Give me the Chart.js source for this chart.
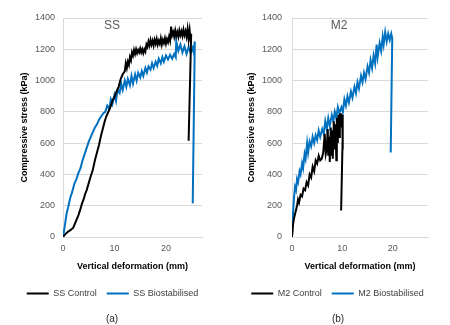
<!DOCTYPE html>
<html>
<head>
<meta charset="utf-8">
<script src="https://cdn.jsdelivr.net/npm/chart.js@4"></script>
<style>
  html, body { margin: 0; padding: 0; background: #fff; }
  #page { position: relative; width: 450px; height: 325px; font-family: "Liberation Sans", Arial, sans-serif; }
  .panel { position: absolute; top: 0; width: 225px; height: 325px; }
  .note { position: absolute; transform: translate(-50%, -50%); white-space: nowrap; }
  .tag { font-size: 12px; color: #595959; }
  .sub { font-size: 10px; color: #262626; }
</style>
</head>
<body>
<div id="page">
  <div class="panel" style="left:0"><canvas id="chart-ss" width="225" height="325"></canvas></div>
  <div class="panel" style="left:225px"><canvas id="chart-m2" width="225" height="325"></canvas></div>
  <div class="note tag" style="left:112px; top:25px">SS</div>
  <div class="note tag" style="left:339px; top:25px">M2</div>
  <div class="note sub" style="left:112px; top:318px">(a)</div>
  <div class="note sub" style="left:338px; top:318px">(b)</div>
</div>
<script>
// Values (deformation in mm, stress in kPa)

const ssControlX = [0, 0.5, 1.0, 1.5, 2.0, 2.5, 3.0, 3.3, 3.7, 4.0, 4.3, 4.6, 5.0, 5.4, 5.8, 6.2, 6.6, 7.0, 7.4, 7.8,
  8.1, 8.4, 8.8, 9.2, 9.6, 10.0, 10.4, 10.8, 11.2, 11.6,
  12.0, 12.2, 12.4, 12.6, 12.8, 13.0, 13.2, 13.4, 13.6, 13.8, 14.0, 14.2, 14.4, 14.6, 14.8, 15.0, 15.2, 15.4, 15.6, 15.8,
  16.0, 16.2, 16.4, 16.6, 16.8, 17.0, 17.2, 17.4, 17.6, 17.8, 18.0, 18.2, 18.4, 18.6, 18.8, 19.0, 19.2, 19.4, 19.6, 19.8,
  20.0, 20.2, 20.4, 20.6, 20.8, 21.0, 21.2, 21.4, 21.6, 21.8, 22.0, 22.2, 22.4, 22.6, 22.8, 23.0, 23.2, 23.4, 23.6, 23.8,
  24.0, 24.2, 24.4, 24.6, 24.8, 24.9, 24.4];
const ssControlY = [0, 20, 35, 45, 60, 100, 140, 170, 215, 240, 275, 300, 345, 390, 430, 490, 540, 590, 650, 700,
  740, 770, 800, 830, 870, 895, 930, 960, 1010, 1040,
  1060, 1110, 1080, 1120, 1100, 1150, 1130, 1180, 1160, 1195, 1170, 1200, 1175, 1195, 1180, 1205, 1180, 1200, 1175, 1200,
  1185, 1230, 1215, 1250, 1225, 1260, 1230, 1255, 1225, 1260, 1235, 1265, 1230, 1255, 1235, 1270, 1230, 1260, 1240, 1270,
  1235, 1265, 1245, 1280, 1255, 1345, 1290, 1310, 1280, 1320, 1285, 1310, 1280, 1320, 1290, 1315, 1285, 1325, 1290, 1315,
  1280, 1330, 1265, 1320, 1250, 1300, 615];

const ssBioX = [0, 0.3, 0.7, 1.0, 1.4, 1.8, 2.2, 2.6, 3.0, 3.4, 3.8, 4.2, 4.6, 5.0, 5.4, 5.8, 6.2, 6.6, 7.0, 7.4,
  7.8, 8.2, 8.6, 9.0, 9.3, 9.6, 10.0, 10.3, 10.6, 11.0, 11.3, 11.6, 12.0, 12.3, 12.6, 13.0, 13.3, 13.6, 14.0, 14.3,
  14.6, 15.0, 15.3, 15.6, 16.0, 16.3, 16.6, 17.0, 17.3, 17.6, 18.0, 18.3, 18.6, 19.0, 19.3, 19.6, 20.0, 20.4, 20.8,
  21.2, 21.6, 21.9, 22.0, 22.4, 22.8, 23.2, 23.6, 24.0, 24.4, 24.8, 25.2, 25.4, 25.6, 25.2];
const ssBioY = [0, 60, 150, 190, 250, 290, 340, 370, 410, 440, 490, 530, 570, 610, 640, 670, 700, 720, 750, 770,
  790, 800, 840, 820, 880, 850, 910, 870, 940, 920, 980, 940, 1000, 960, 1010, 970, 1030, 980, 1040, 1000,
  1050, 1020, 1060, 1030, 1080, 1050, 1090, 1070, 1110, 1080, 1120, 1095, 1140, 1110, 1150, 1120, 1160, 1135, 1165,
  1140, 1170, 1150, 1250, 1190, 1230, 1180, 1220, 1170, 1215, 1175, 1210, 1180, 1250, 215];

const m2ControlX = [0, 0.2, 0.4, 0.7, 1.0, 1.2, 1.4, 1.7, 2.0, 2.3, 2.6, 2.9, 3.2, 3.5, 3.8, 4.1, 4.4, 4.7, 5.0, 5.3,
  5.6, 5.9, 6.2, 6.5, 6.7, 6.9, 7.1, 7.2, 7.4, 7.5, 7.7, 7.8, 8.0, 8.1, 8.3, 8.5, 8.6, 8.8, 8.9, 9.1, 9.2, 9.4,
  9.5, 9.7, 9.8, 10.0, 10.1, 10.1, 10.0, 9.75];
const m2ControlY = [0, 80, 120, 160, 200, 240, 220, 270, 260, 310, 300, 350, 330, 400, 380, 450, 420, 490, 470, 520,
  490, 500, 540, 660, 530, 560, 690, 520, 640, 480, 700, 520, 680, 500, 740, 560, 720, 490, 760, 600, 780, 640,
  790, 700, 790, 720, 780, 560, 650, 170];

const m2BioX = [0, 0.2, 0.4, 0.6, 0.8, 1.0, 1.2, 1.5, 1.7, 2.0, 2.2, 2.5, 2.7, 3.0, 3.2, 3.5, 3.8, 4.1, 4.4, 4.7,
  5.0, 5.3, 5.6, 6.0, 6.3, 6.6, 6.9, 7.2, 7.5, 7.9, 8.2, 8.5, 8.8, 9.1, 9.4, 9.8, 10.1, 10.4, 10.7, 11.0, 11.3,
  11.7, 12.0, 12.4, 12.7, 13.0, 13.3, 13.7, 14.0, 14.3, 14.6, 15.0, 15.3, 15.6, 15.9, 16.2, 16.5, 16.8, 17.0, 17.4,
  17.7, 18.0, 18.2, 18.5, 18.8, 19.1, 19.4, 19.7, 19.9, 19.6];
const m2BioY = [0, 150, 250, 320, 300, 370, 350, 420, 400, 470, 440, 530, 500, 600, 540, 610, 580, 640, 600, 650,
  620, 680, 640, 690, 660, 740, 690, 760, 710, 780, 740, 800, 760, 830, 790, 830, 800, 880, 840, 900, 860,
  930, 890, 960, 920, 990, 950, 1030, 990, 1050, 1010, 1090, 1050, 1130, 1080, 1160, 1110, 1230, 1150, 1240,
  1190, 1280, 1230, 1310, 1250, 1300, 1260, 1300, 1270, 540];

const xTicks = [0, 10, 20];
const yTicks = [0, 200, 400, 600, 800, 1000, 1200, 1400];

const FONT = '"Liberation Sans", Arial, sans-serif';
const BLACK = '#000000';
const BLUE = '#0070C0';

function toPoints(xs, ys) {
  return xs.map((x, i) => ({ x: x, y: ys[i] }));
}

function series(label, xs, ys, color) {
  return {
    label: label,
    data: toPoints(xs, ys),
    borderColor: color,
    backgroundColor: color,
    borderWidth: 2,
    pointRadius: 0,
    showLine: true,
    tension: 0,
    yAxisID: 'y',
  };
}

function makeChart(id, datasets, pad) {
  const ctx = document.getElementById(id).getContext('2d');
  return new Chart(ctx, {
    type: 'scatter',
    data: { datasets: datasets },
    options: {
      responsive: false,
      animation: false,
      layout: { padding: { left: 0, right: 0, top: 18, bottom: 17 } },
      plugins: {
        tooltip: { enabled: false },
        legend: {
          position: 'bottom',
          labels: {
            boxWidth: 22,
            boxHeight: 2,
            padding: 10,
            color: '#404040',
            font: { family: FONT, size: 9 },
            generateLabels: (chart) =>
              Chart.defaults.plugins.legend.labels.generateLabels(chart).map((item) => {
                item.lineWidth = 0;
                return item;
              }),
          },
        },
      },
      scales: {
        x: {
          type: 'linear',
          min: 0,
          max: 27,
          afterBuildTicks: (scale) => { scale.ticks = xTicks.map((v) => ({ value: v })); },
          afterFit: (scale) => { scale.height = 42; },
          grid: { display: false, drawTicks: false },
          border: { color: '#D9D9D9', width: 1 },
          ticks: { padding: 6, color: '#595959', font: { family: FONT, size: 9 } },
          title: {
            display: true,
            text: 'Vertical deformation (mm)',
            color: '#000000',
            font: { family: FONT, size: 9, weight: 'bold' },
            padding: { top: 0, bottom: 7 },
          },
        },
        y: {
          type: 'linear',
          position: 'left',
          min: 0,
          max: 1400,
          afterBuildTicks: (scale) => { scale.ticks = yTicks.map((v) => ({ value: v })); },
          afterFit: (scale) => { scale.width = pad.axis; },
          grid: { color: '#D9D9D9', drawTicks: false },
          border: { color: '#D9D9D9', width: 1 },
          ticks: {
            padding: pad.tick,
            color: '#595959',
            font: { family: FONT, size: 9 },
            callback: (v) => String(v),
          },
          title: {
            display: true,
            text: 'Compressive stress (kPa)',
            color: '#000000',
            font: { family: FONT, size: 9, weight: 'bold' },
            padding: { top: pad.title, bottom: 0 },
          },
        },
        // empty spacer on the right so the legend can use the full width
        spacer: {
          type: 'linear',
          position: 'right',
          afterFit: (scale) => { scale.width = pad.right; },
          grid: { display: false, drawTicks: false },
          border: { display: false },
          ticks: { display: false },
        },
      },
    },
  });
}

makeChart('chart-ss', [
  series('SS Control', ssControlX, ssControlY, BLACK),
  series('SS Biostabilised', ssBioX, ssBioY, BLUE),
], { right: 23, axis: 63, tick: 8, title: 19.6 });

makeChart('chart-m2', [
  series('M2 Control', m2ControlX, m2ControlY, BLACK),
  series('M2 Biostabilised', m2BioX, m2BioY, BLUE),
], { right: 22, axis: 67, tick: 10, title: 21.3 });
</script>
</body>
</html>
